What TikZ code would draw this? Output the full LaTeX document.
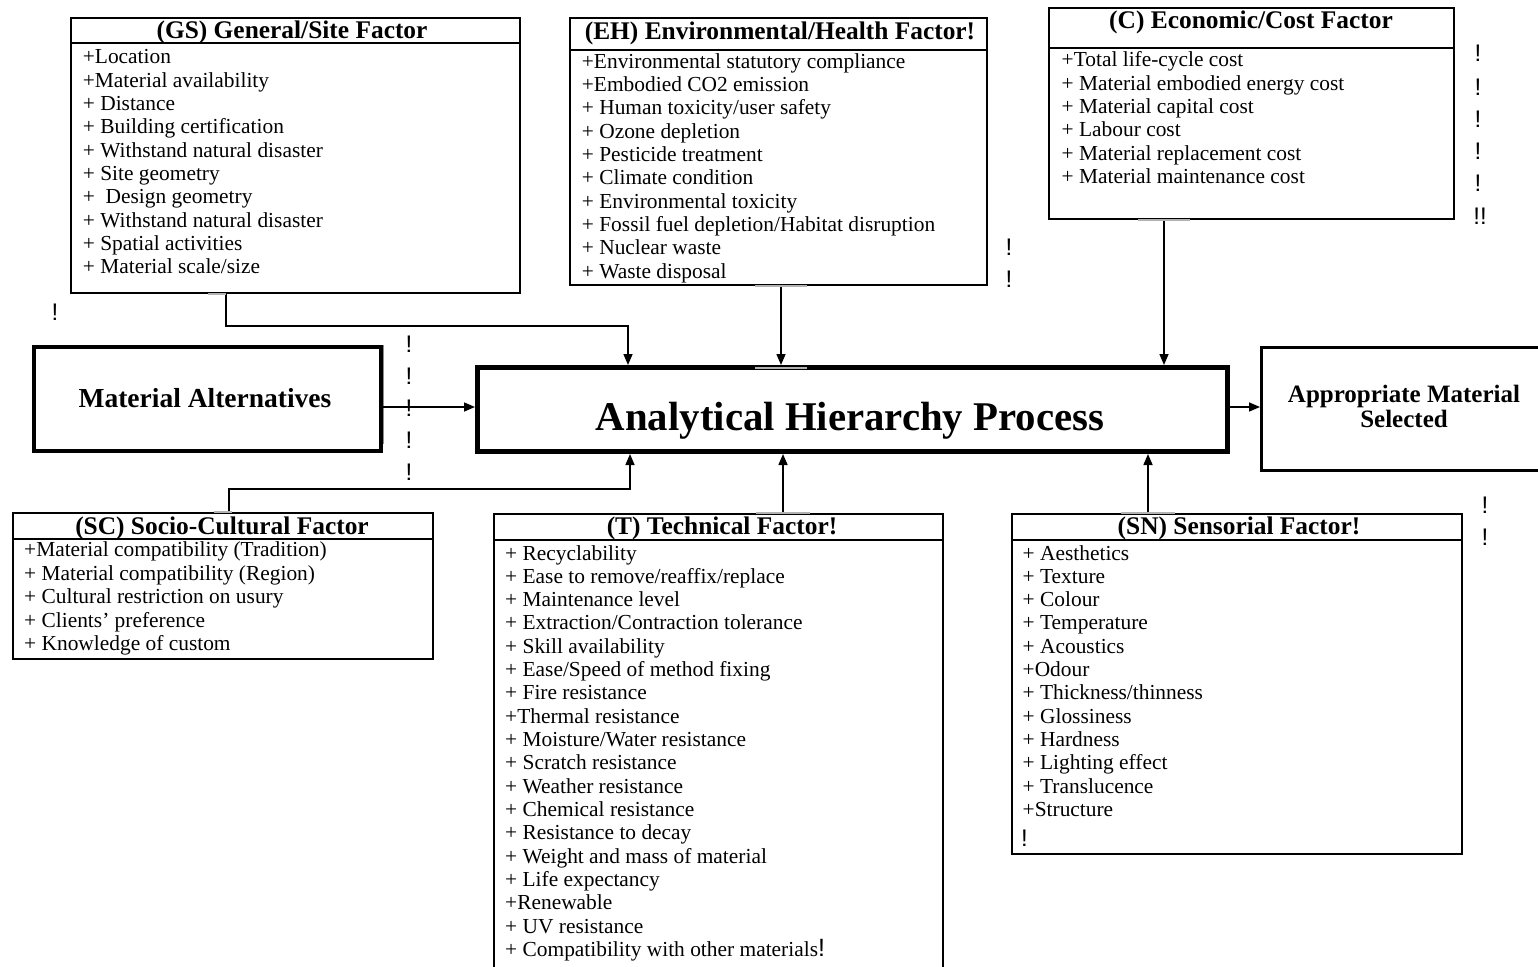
\documentclass[tikz,border=0pt]{standalone}
\usepackage{fontspec}
\setmainfont{Liberation Serif}
\newfontfamily\bangfont{Liberation Sans}
\usetikzlibrary{arrows.meta,shadows}
\begin{document}
\begin{tikzpicture}[x=1pt,y=-1pt,
  fbox/.style={draw=black, line width=1.8pt, anchor=north west, inner sep=0pt},
  item/.style={anchor=base west, inner sep=0pt, font=\fontsize{21.4}{23}\selectfont},
  head/.style={anchor=base, inner sep=0pt, font=\bfseries\fontsize{25.4}{27}\selectfont},
  bigtext/.style={anchor=base, inner sep=0pt},
  bang/.style={anchor=base, inner sep=0pt, font=\bangfont\fontsize{24}{26}\selectfont},
  conn/.style={draw=black, line width=1.5pt},
  arr/.style={conn, -{Triangle[length=11pt,width=9pt]}},
  tick/.style={draw=black!30, line width=2pt},
]
\useasboundingbox (0,0) rectangle (1538,966);
\fill[white] (0,0) rectangle (1538,966);
\clip (0,0) rectangle (1538,966);

% ---------- factor boxes ----------
\node[fbox, minimum width=449pt, minimum height=275pt] (gs) at (70,17) {};
\node[fbox, minimum width=417pt, minimum height=267pt] (eh) at (569,17) {};
\node[fbox, minimum width=405pt, minimum height=211pt] (c) at (1048,7) {};
\node[fbox, minimum width=420pt, minimum height=146pt] (sc) at (12,512) {};
\node[fbox, minimum width=449pt, minimum height=470pt] (t) at (493,513) {};
\node[fbox, minimum width=450pt, minimum height=340pt] (sn) at (1011,513) {};

% header separators
\draw[line width=1.8pt] ([yshift=-26pt]gs.north west) -- ([yshift=-26pt]gs.north east);
\draw[line width=1.8pt] ([yshift=-33pt]eh.north west) -- ([yshift=-33pt]eh.north east);
\draw[line width=1.8pt] ([yshift=-41pt]c.north west) -- ([yshift=-41pt]c.north east);
\draw[line width=1.8pt] ([yshift=-27pt]sc.north west) -- ([yshift=-27pt]sc.north east);
\draw[line width=1.8pt] ([yshift=-27pt]t.north west) -- ([yshift=-27pt]t.north east);
\draw[line width=1.8pt] ([yshift=-27pt]sn.north west) -- ([yshift=-27pt]sn.north east);

% headers
\node[head] (gsh) at (292,38) {(GS) General/Site Factor};
\node[head] (ehh) at (780,40) {(EH) Environmental/Health Factor!};
\node[head] (ch) at (1251,29) {(C) Economic/Cost Factor};
\node[head] (sch) at (222,534) {(SC) Socio-Cultural Factor};
\node[head] (th) at (722,534) {(T) Technical Factor!};
\node[head] (snh) at (1239,534) {(SN) Sensorial Factor!};

% items
\foreach \txt [count=\i from 0] in {+Location, +Material availability, + Distance,
  + Building certification, + Withstand natural disaster, + Site geometry,
  +\ \ Design geometry, + Withstand natural disaster, + Spatial activities,
  + Material scale/size}
  \node[item] (gs\i) at (82.7,{63.7+23.33*\i}) {\txt};

\foreach \txt [count=\i from 0] in {+Environmental statutory compliance,
  +Embodied CO2 emission, + Human toxicity/user safety, + Ozone depletion,
  + Pesticide treatment, + Climate condition, + Environmental toxicity,
  + Fossil fuel depletion/Habitat disruption, + Nuclear waste, + Waste disposal}
  \node[item] (eh\i) at (581.7,{68.3+23.33*\i}) {\txt};

\foreach \txt [count=\i from 0] in {+Total life-cycle cost,
  + Material embodied energy cost, + Material capital cost, + Labour cost,
  + Material replacement cost, + Material maintenance cost}
  \node[item] (c\i) at (1061.5,{66.7+23.33*\i}) {\txt};

\foreach \txt [count=\i from 0] in {+Material compatibility (Tradition),
  + Material compatibility (Region), + Cultural restriction on usury,
  + Clients’ preference, + Knowledge of custom}
  \node[item] (sc\i) at (24,{556.5+23.5*\i}) {\txt};

\foreach \txt [count=\i from 0] in {+ Recyclability, + Ease to remove/reaffix/replace,
  + Maintenance level, + Extraction/Contraction tolerance, + Skill availability,
  + Ease/Speed of method fixing, + Fire resistance, +Thermal resistance,
  + Moisture/Water resistance, + Scratch resistance, + Weather resistance,
  + Chemical resistance, + Resistance to decay, + Weight and mass of material,
  + Life expectancy, +Renewable, + UV resistance,
  + Compatibility with other materials{\bangfont\fontsize{25}{26}\selectfont !}}
  \node[item] (t\i) at (505,{560+23.33*\i}) {\txt};

\foreach \txt [count=\i from 0] in {+ Aesthetics, + Texture, + Colour, + Temperature,
  + Acoustics, +Odour, + Thickness/thinness, + Glossiness, + Hardness,
  + Lighting effect, + Translucence, +Structure}
  \node[item] (sn\i) at (1022.5,{560+23.33*\i}) {\txt};
\node[bang, anchor=base west] (snb) at (1021,846) {!};

% ---------- main boxes ----------
\node[draw=black!45, line width=1.2pt, anchor=north west, inner sep=0pt,
      minimum width=4pt, minimum height=98pt] (mashade) at (379,345) {};
\node[draw=black, line width=4pt, anchor=north west, inner sep=0pt, fill=white,
      minimum width=347pt, minimum height=104pt,
      drop shadow={shadow xshift=2pt, shadow yshift=-2pt, opacity=0.35}] (ma) at (32,345) {};
\node[bigtext, font=\bfseries\fontsize{27.5}{30}\selectfont] (matxt) at (205,407) {Material Alternatives};

\node[draw=black, line width=5pt, anchor=north west, inner sep=0pt, fill=white,
      minimum width=750pt, minimum height=84pt,
      drop shadow={shadow xshift=2pt, shadow yshift=-2pt, opacity=0.35}] (ahp) at (475,365) {};
\node[bigtext, font=\bfseries\fontsize{40.8}{44}\selectfont] (ahptxt) at (850,430) {Analytical Hierarchy Process};

\node[draw=black, line width=3pt, anchor=north west, inner sep=0pt, fill=white,
      minimum width=320pt, minimum height=123pt] (ap) at (1260,346) {};
\node[bigtext, font=\bfseries\fontsize{25}{26}\selectfont] (aptxt1) at (1404,402) {Appropriate Material};
\node[bigtext, font=\bfseries\fontsize{25}{26}\selectfont] (aptxt2) at (1404,427) {Selected};

% ---------- connectors ----------
\coordinate (gsx) at (226,0);
\coordinate (gsin) at (628,0);
\coordinate (ehx) at (781,0);
\coordinate (cx) at (1164,0);
\coordinate (scx) at (229,0);
\coordinate (scin) at (630,0);
\coordinate (tx) at (783,0);
\coordinate (snx) at (1148,0);

\draw[arr] (gs.south -| gsx) -- ++(0,32) -| (ahp.north -| gsin);
\draw[arr] (eh.south -| ehx) -- (ahp.north -| ehx);
\draw[arr] (c.south -| cx) -- (ahp.north -| cx);
\draw[arr] (sc.north -| scx) -- ++(0,-23) -| (ahp.south -| scin);
\draw[arr] (t.north -| tx) -- (ahp.south -| tx);
\draw[arr] (sn.north -| snx) -- (ahp.south -| snx);
\draw[arr] (ma.east |- 0,407) -- (ahp.west |- 0,407);
\draw[arr] (ahp.east |- 0,407) -- (ap.west |- 0,407);

% small grey ticks at the joins
\draw[tick] ([xshift=-18pt]gs.south -| gsx) -- (gs.south -| gsx);
\draw[tick] ([xshift=-26pt]eh.south -| ehx) -- ([xshift=26pt]eh.south -| ehx);
\draw[tick] ([xshift=-26pt,yshift=-3pt]ahp.north -| ehx) -- ([xshift=26pt,yshift=-3pt]ahp.north -| ehx);
\draw[tick] ([xshift=-26pt]c.south -| cx) -- ([xshift=26pt]c.south -| cx);
\draw[tick] ([xshift=-27pt]t.north -| tx) -- ([xshift=27pt]t.north -| tx);
\draw[tick] ([xshift=-27pt]sn.north -| snx) -- ([xshift=27pt]sn.north -| snx);
\draw[tick] ([xshift=-15pt]sc.north -| scx) -- ([xshift=3pt]sc.north -| scx);

% ---------- stray marks ----------
\node[bang] (b1) at (55,320) {!};
\node[bang] (b2) at (409,352) {!};
\node[bang] (b3) at (409,384) {!};
\node[bang] (b4) at (409,416) {!};
\node[bang] (b5) at (409,448) {!};
\node[bang] (b6) at (409,480) {!};
\node[bang] (b7) at (1009,255) {!};
\node[bang] (b8) at (1009,287) {!};
\node[bang] (b9) at (1478,62) {!};
\node[bang] (b10) at (1478,95) {!};
\node[bang] (b11) at (1478,127) {!};
\node[bang] (b12) at (1478,159) {!};
\node[bang] (b13) at (1478,191) {!};
\node[bang] (b14) at (1480,224) {!!};
\node[bang] (b15) at (1485,513) {!};
\node[bang] (b16) at (1485,545) {!};
\end{tikzpicture}
\end{document}
